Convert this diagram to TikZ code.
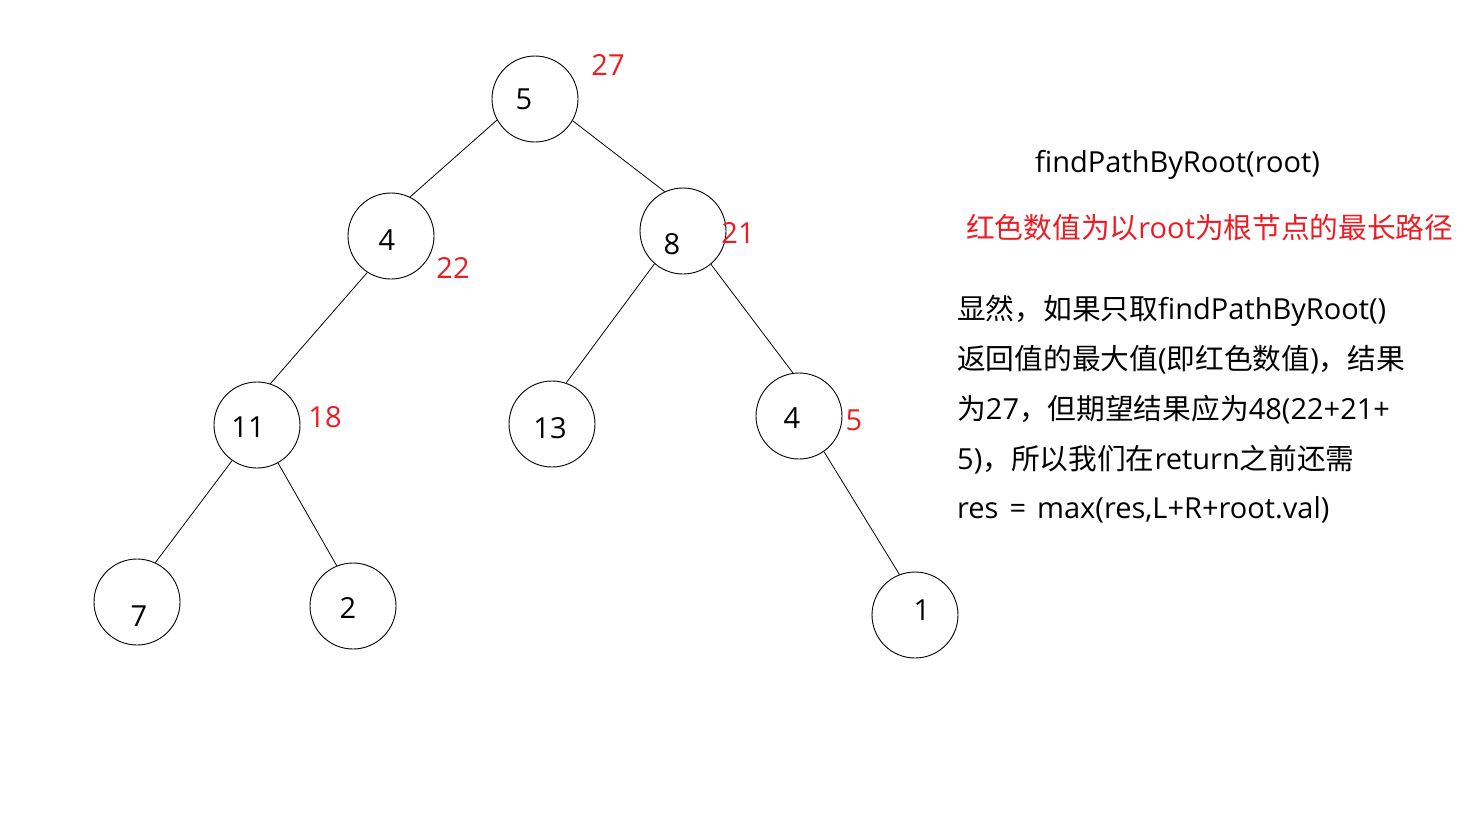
\documentclass[tikz,border=0pt]{standalone}
\usepackage{fontspec}
\setmainfont{Open Sans}
\newfontfamily\cjk[Scale=0.99]{Noto Sans CJK SC}
\newcommand\cj[1]{{\cjk #1}}
\definecolor{valred}{RGB}{237,28,36}
\begin{document}
\begin{tikzpicture}[x=1pt,y=-1pt,
  treenode/.style={circle,draw=black,line width=0.9pt,minimum size=86pt,inner sep=0pt},
  num/.style={font=\fontsize{29}{34}\selectfont,inner sep=0pt},
  rednum/.style={font=\fontsize{29}{34}\selectfont,text=valred,inner sep=0pt},
  edge/.style={draw=black,line width=0.8pt},
  txt/.style={font=\fontsize{29}{34}\selectfont,inner sep=0pt,anchor=base west}]
\useasboundingbox (0,0) rectangle (1483,812);
\fill[white] (0,0) rectangle (1483,812);
% tree nodes
\node[treenode,label={[num,xshift=-11pt]center:5}] (n5) at (535,99) {};
\node[treenode,label={[num,xshift=-4pt,yshift=-4pt]center:4}] (n4) at (391,236) {};
\node[treenode,label={[num,xshift=-11pt,yshift=-13pt]center:8}] (n8) at (683,231) {};
\node[treenode,label={[num,xshift=-9pt,yshift=-2pt]center:11}] (n11) at (257,425) {};
\node[treenode,label={[num,xshift=-2pt,yshift=-4pt]center:13}] (n13) at (552,424) {};
\node[treenode,label={[num,xshift=-7pt,yshift=-2pt]center:4}] (n4b) at (799,416) {};
\node[treenode,label={[num,xshift=2pt,yshift=-14pt]center:7}] (n7) at (137,602) {};
\node[treenode,label={[num,xshift=-5pt,yshift=-2pt]center:2}] (n2) at (353,606) {};
\node[treenode,label={[num,xshift=7pt,yshift=5pt]center:1}] (n1) at (915,615) {};
% edges
\draw[edge] (n5.209) -- (n4.64);
\draw[edge] (n5.330) -- (n8.115);
\draw[edge] (n4.237) -- (n11.72);
\draw[edge] (n11.235) -- (n7.65);
\draw[edge] (n11.299) -- (n2.112);
\draw[edge] (n8.229) -- (n13.71);
\draw[edge] (n8.310) -- (n4b.98);
\draw[edge] (n4b.305) -- (n1.111);
% red values
\node[rednum] (r27) at (608,65) {27};
\node[rednum] (r22) at (453,268) {22};
\node[rednum] (r21) at (738,233) {21};
\node[rednum] (r18) at (325,417) {18};
\node[rednum] (r5) at (854,420) {5};
% right-hand text
\node[txt] (t0) at (1035,172) {findPathByRoot(root)};
\node[txt,text=valred] (t1) at (966,238) {\cj{红色数值为以}root\cj{为根节点的最长路径}};
\node[txt] (l1) at (957,319) {\cj{显然，如果只取}findPathByRoot()};
\node[txt] (l2) at (957,369) {\cj{返回值的最大值}(\cj{即红色数值})\cj{，结果}};
\node[txt] (l3) at (957,419) {\cj{为}27\cj{，但期望结果应为}48(22+21+};
\node[txt] (l4) at (957,469) {5)\cj{，所以我们在}return\cj{之前还需}};
\node[txt] (l5) at (957,518) {res\hspace{11pt}=\hspace{11pt}max(res,L+R+root.val)};
\end{tikzpicture}
\end{document}
